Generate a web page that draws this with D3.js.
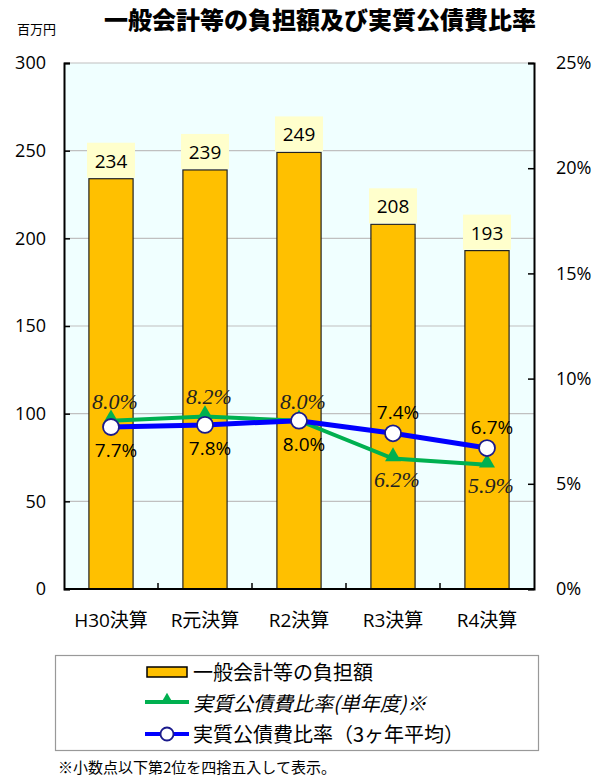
<!DOCTYPE html>
<html>
<head>
<meta charset="utf-8">
<script src="https://cdn.jsdelivr.net/npm/d3@7"></script>
<style>
  html, body { margin: 0; padding: 0; background: #ffffff; }
  svg { display: block; font-family: "Noto Sans CJK JP", "Noto Sans", sans-serif; }
</style>
</head>
<body>
<svg id="chart" width="610" height="778"></svg>
<script>
// Fiscal-year categories and series values
const categories = ["H30決算", "R元決算", "R2決算", "R3決算", "R4決算"];
const burden = [234, 239, 249, 208, 193];            // 一般会計等の負担額 (百万円)
const ratioSingle = [8.0, 8.2, 8.0, 6.2, 5.9];        // 実質公債費比率(単年度) %
const ratioAvg = [7.7, 7.8, 8.0, 7.4, 6.7];           // 実質公債費比率(3ヶ年平均) %
const leftTicks = [0, 50, 100, 150, 200, 250, 300];
const rightTicks = [0, 5, 10, 15, 20, 25];
const legendLabels = ["一般会計等の負担額", "実質公債費比率(単年度)※", "実質公債費比率（3ヶ年平均）"];

// Where each rate label sits relative to its point
const singleLabelAbove = [true, true, true, false, false];
const avgLabelAbove = [false, false, false, true, true];

const SANS = "'Open Sans', 'Noto Sans CJK JP', sans-serif";
const SERIF = "'Liberation Serif', 'DejaVu Serif', serif";
const CJK = "'Noto Sans CJK JP', sans-serif";

const svg = d3.select("#chart");
const plot = { left: 64, right: 534, top: 63, bottom: 589 };

const x = d3.scaleBand().domain(categories).range([plot.left, plot.right]).paddingInner(0.53).paddingOuter(0.265);
const xc = d => x(d) + x.bandwidth() / 2;
const yL = d3.scaleLinear().domain([0, 300]).range([plot.bottom, plot.top]);
const yR = d3.scaleLinear().domain([0, 25]).range([plot.bottom, plot.top]);

// Title and unit
svg.append("text").attr("x", 320).attr("y", 29).attr("text-anchor", "middle")
  .style("font-family", CJK).style("font-size", "24px").style("font-weight", "900")
  .attr("fill", "#000").text("一般会計等の負担額及び実質公債費比率");
svg.append("text").attr("x", 17).attr("y", 34).style("font-family", CJK)
  .style("font-size", "13px").attr("fill", "#000").text("百万円");

// Plot background
svg.append("rect").attr("x", plot.left).attr("y", plot.top)
  .attr("width", plot.right - plot.left).attr("height", plot.bottom - plot.top)
  .attr("fill", "#f0ffff");

// Horizontal gridlines on the left scale
svg.append("g").selectAll("line").data(leftTicks.filter(t => t > 0)).join("line")
  .attr("x1", plot.left).attr("x2", plot.right)
  .attr("y1", d => yL(d)).attr("y2", d => yL(d))
  .attr("stroke", "#c0c0c0").attr("stroke-width", 1.2);

// Bars
svg.append("g").selectAll("rect").data(burden).join("rect")
  .attr("x", (d, i) => x(categories[i])).attr("width", x.bandwidth())
  .attr("y", d => yL(d)).attr("height", d => yL(0) - yL(d))
  .attr("fill", "#ffc000").attr("stroke", "#222").attr("stroke-width", 1.2);

// Bar value labels on pale yellow boxes
const barLab = svg.append("g").selectAll("g").data(burden).join("g");
barLab.append("rect")
  .attr("x", (d, i) => xc(categories[i]) - 24).attr("y", d => yL(d) - 36)
  .attr("width", 48).attr("height", 35).attr("fill", "#ffffcc");
barLab.append("text")
  .attr("x", (d, i) => xc(categories[i])).attr("y", d => yL(d) - 11)
  .attr("text-anchor", "middle").style("font-size", "19px")
  .style("font-family", SANS).attr("fill", "#000")
  .text(d => d);

// Axes
const axisL = d3.axisLeft(yL).tickValues(leftTicks).tickSize(-6).tickPadding(18).tickFormat(d3.format("d"));
const axisR = d3.axisRight(yR).tickValues(rightTicks).tickSize(-6).tickPadding(22).tickFormat(d => d + "%");
const gL = svg.append("g").attr("transform", `translate(${plot.left},0)`).call(axisL);
const gR = svg.append("g").attr("transform", `translate(${plot.right},0)`).call(axisR);
[gL, gR].forEach(g => {
  g.select(".domain").attr("stroke", "#000").attr("stroke-width", 2);
  g.selectAll(".tick line").attr("stroke", "#000").attr("stroke-width", 1.5);
  g.selectAll(".tick text").style("font-size", "18px").attr("fill", "#000")
    .style("font-family", SANS);
});

// Bottom axis with tick marks between categories
svg.append("line").attr("x1", plot.left).attr("x2", plot.right)
  .attr("y1", plot.bottom).attr("y2", plot.bottom).attr("stroke", "#000").attr("stroke-width", 2);
const step = x.step();
svg.append("g").selectAll("line").data(categories.slice(1)).join("line")
  .attr("x1", d => x(d) - step * 0.265).attr("x2", d => x(d) - step * 0.265)
  .attr("y1", plot.bottom).attr("y2", plot.bottom - 6)
  .attr("stroke", "#000").attr("stroke-width", 1.5);
svg.append("g").selectAll("text").data(categories).join("text")
  .attr("x", d => xc(d)).attr("y", 627).attr("text-anchor", "middle")
  .style("font-size", "19px").style("font-family", SANS).attr("fill", "#000").text(d => d);

// Single-year ratio line (green triangles)
const line = d3.line().x((d, i) => xc(categories[i])).y(d => yR(d));
svg.append("path").datum(ratioSingle).attr("d", line)
  .attr("fill", "none").attr("stroke", "#00b050").attr("stroke-width", 4);
const tri = d3.symbol().type(d3.symbolTriangle).size(110);
svg.append("g").selectAll("path").data(ratioSingle).join("path")
  .attr("d", tri).attr("transform", (d, i) => `translate(${xc(categories[i])},${yR(d) - 2})`)
  .attr("fill", "#00b050");

// Three-year average line (blue circles)
svg.append("path").datum(ratioAvg).attr("d", line)
  .attr("fill", "none").attr("stroke", "#0000ff").attr("stroke-width", 5);
svg.append("g").selectAll("circle").data(ratioAvg).join("circle")
  .attr("cx", (d, i) => xc(categories[i])).attr("cy", d => yR(d)).attr("r", 8)
  .attr("fill", "#fff").attr("stroke", "#1a1a8c").attr("stroke-width", 1.8);

// Rate labels
svg.append("g").selectAll("text").data(ratioSingle).join("text")
  .attr("x", (d, i) => xc(categories[i]) + 4)
  .attr("y", (d, i) => singleLabelAbove[i] ? yR(d) - 12 : yR(d) + 28)
  .attr("text-anchor", "middle").style("font-size", "22px").style("font-style", "italic")
  .style("font-family", SERIF).attr("fill", "#222")
  .text(d => d.toFixed(1) + "%");
svg.append("g").selectAll("text").data(ratioAvg).join("text")
  .attr("x", (d, i) => xc(categories[i]) + 5)
  .attr("y", (d, i) => avgLabelAbove[i] ? yR(d) - 14 : yR(d) + 30)
  .attr("text-anchor", "middle").style("font-size", "19px")
  .style("font-family", SANS).attr("fill", "#000")
  .text(d => d.toFixed(1) + "%");

// Legend
const lg = svg.append("g");
lg.append("rect").attr("x", 55.5).attr("y", 655.5).attr("width", 483).attr("height", 95)
  .attr("fill", "#fff").attr("stroke", "#999").attr("stroke-width", 1.2);
lg.append("rect").attr("x", 147).attr("y", 667).attr("width", 40).attr("height", 10)
  .attr("fill", "#ffc000").attr("stroke", "#000").attr("stroke-width", 1.5);
lg.append("line").attr("x1", 145).attr("x2", 189).attr("y1", 702).attr("y2", 702)
  .attr("stroke", "#00b050").attr("stroke-width", 4);
lg.append("path").attr("d", d3.symbol().type(d3.symbolTriangle).size(70))
  .attr("transform", "translate(167,700)").attr("fill", "#00b050");
lg.append("line").attr("x1", 145).attr("x2", 189).attr("y1", 734).attr("y2", 734)
  .attr("stroke", "#0000ff").attr("stroke-width", 4);
lg.append("circle").attr("cx", 167).attr("cy", 734).attr("r", 6.5)
  .attr("fill", "#fff").attr("stroke", "#1a1a8c").attr("stroke-width", 1.8);
const legY = [680, 711, 742];
lg.selectAll("text.leg").data(legendLabels).join("text").attr("class", "leg")
  .attr("x", 193).attr("y", (d, i) => legY[i]).style("font-size", "20px")
  .style("font-family", CJK).attr("fill", "#000")
  .style("font-style", (d, i) => i === 1 ? "italic" : "normal")
  .text(d => d);

// Footnote
svg.append("text").attr("x", 58).attr("y", 773).style("font-size", "15px")
  .style("font-family", CJK).attr("fill", "#000")
  .text("※小数点以下第2位を四捨五入して表示。");
</script>
</body>
</html>
